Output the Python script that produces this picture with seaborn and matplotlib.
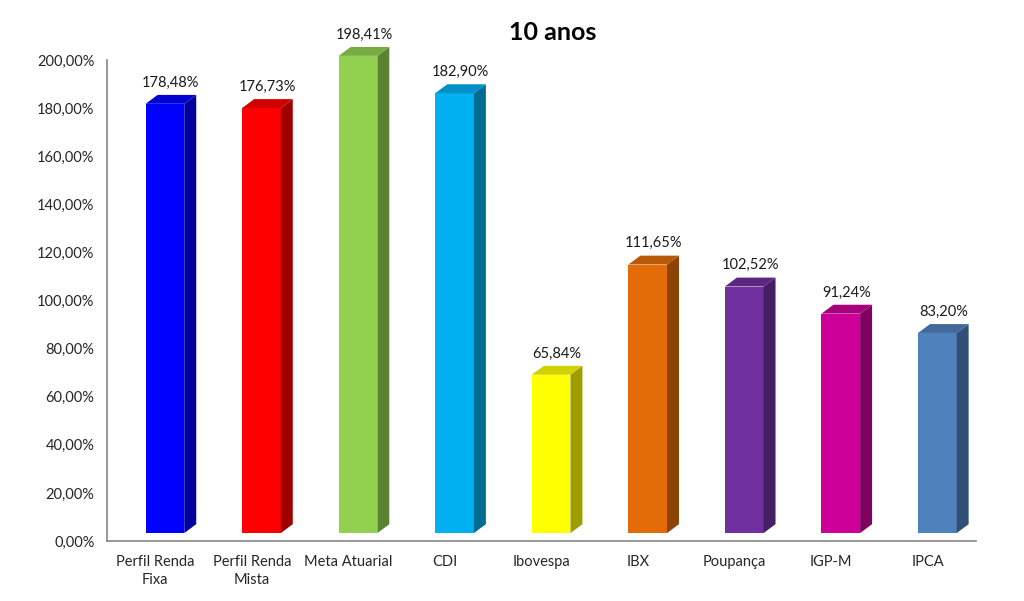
import numpy as np
import pandas as pd
import matplotlib
matplotlib.use('Agg')
import matplotlib.pyplot as plt
import matplotlib.colors as mcolors
from matplotlib.patches import Polygon
from matplotlib.ticker import FixedLocator, FuncFormatter
import seaborn as sns

# Dados
categorias = ['Perfil Renda\nFixa', 'Perfil Renda\nMista', 'Meta Atuarial', 'CDI', 'Ibovespa',
              'IBX', 'Poupança', 'IGP-M', 'IPCA']
valores = [178.48, 176.73, 198.41, 182.90, 65.84, 111.65, 102.52, 91.24, 83.20]
cores = ['#0000FF', '#FF0000', '#92D050', '#00B0F0', '#FFFF00',
         '#E36C09', '#7030A0', '#CC0099', '#4F81BD']
titulo = '10 anos'

df = pd.DataFrame({'categoria': categorias, 'valor': valores})

sns.set_style('white')
plt.rcParams['font.family'] = ['Lato', 'DejaVu Sans']

fig = plt.figure(figsize=(10.24, 6.01), dpi=100)
ax = fig.add_axes([0.1045, 0.0998, 0.8486, 0.8004])

sns.barplot(data=df, x='categoria', y='valor', hue='categoria', palette=cores,
            legend=False, width=0.4, saturation=1, ax=ax, errorbar=None)

# efeito 3D (profundidade em unidades de dados)
base = 3.3      # face frontal começa um pouco acima do eixo
dx = 0.124      # deslocamento horizontal da profundidade
dy = 3.7        # deslocamento vertical da profundidade
shift = 0.1

def escurece(c, f):
    r, g, b = mcolors.to_rgb(c)
    return (r * f, g * f, b * f)

for p, v, c in zip(ax.patches, valores, cores):
    p.set_x(p.get_x() + shift)
    p.set_y(base)
    p.set_height(v)
    p.set_edgecolor('none')
    p.set_clip_on(False)
    x0 = p.get_x()
    x1 = x0 + p.get_width()
    y0 = base
    y1 = base + v
    lado = Polygon([(x1, y0), (x1 + dx, y0 + dy), (x1 + dx, y1 + dy), (x1, y1)],
                   closed=True, facecolor=escurece(c, 0.62), edgecolor='none', clip_on=False)
    topo = Polygon([(x0, y1), (x0 + dx, y1 + dy), (x1 + dx, y1 + dy), (x1, y1)],
                   closed=True, facecolor=escurece(c, 0.82), edgecolor='none', clip_on=False)
    ax.add_patch(lado)
    ax.add_patch(topo)
    rotulo = f'{v:.2f}'.replace('.', ',') + '%'
    ax.text((x0 + x1 + dx) / 2, y1 + dy + 2.2, rotulo, ha='center', va='bottom',
            fontsize=10.5, color='#1a1a1a', clip_on=False)

ax.set_xlim(-0.5, len(categorias) - 0.5)
ax.set_ylim(0, 200)
ax.set_yticks(np.arange(0, 201, 20))
ax.yaxis.set_major_formatter(FuncFormatter(lambda y, _: f'{y:.2f}'.replace('.', ',') + '%'))
ax.xaxis.set_minor_locator(FixedLocator(np.arange(-0.5, len(categorias), 1)))
ax.tick_params(axis='x', which='major', length=0, pad=10, labelsize=10.5)
ax.tick_params(axis='x', which='minor', length=5, color='#868686', direction='out')
ax.tick_params(axis='y', length=5, color='#868686', direction='out', labelsize=10.5, pad=4)
for lbl in ax.get_xticklabels():
    lbl.set_linespacing(1.35)
ax.set_xlabel('')
ax.set_ylabel('')

for s in ['top', 'right']:
    ax.spines[s].set_visible(False)
for s in ['left', 'bottom']:
    ax.spines[s].set_color('#868686')
    ax.spines[s].set_linewidth(1.2)

fig.text(553 / 1024, 1 - 32 / 601, titulo, ha='center', va='center',
         fontsize=18, fontweight='bold', color='#000000')

fig.savefig('out.png', dpi=100)
